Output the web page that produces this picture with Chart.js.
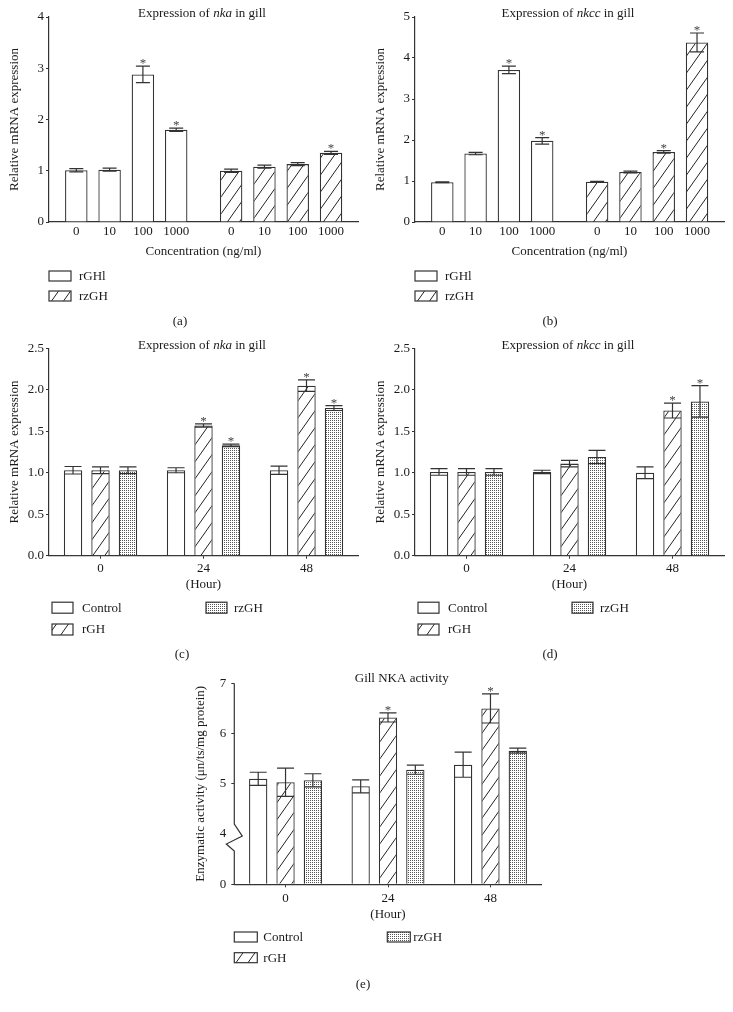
<!DOCTYPE html>
<html><head><meta charset="utf-8"><title>Gill expression</title>
<script src="https://cdn.jsdelivr.net/npm/chart.js@4.4.1/dist/chart.umd.min.js"></script>
<style>
html,body{margin:0;padding:0;background:#fff}
body{position:relative;width:733px;height:1012px;overflow:hidden}
canvas{position:absolute;display:block}
</style></head><body>
<canvas id="pa" width="366" height="330" style="left:0;top:0;width:366px;height:330px"></canvas>
<canvas id="pb" width="367" height="330" style="left:366px;top:0;width:367px;height:330px"></canvas>
<canvas id="pc" width="366" height="338" style="left:0;top:330px;width:366px;height:338px"></canvas>
<canvas id="pd" width="367" height="338" style="left:366px;top:330px;width:367px;height:338px"></canvas>
<canvas id="pe" width="380" height="344" style="left:180px;top:668px;width:380px;height:344px"></canvas>
<script>
// ---------------- DATA ----------------
const concLabels = ['0', '10', '100', '1000'];
const hourLabels = ['0', '24', '48'];

// (a) nka vs concentration
const nkaConcRGHl     = [1.01, 1.02, 2.88, 1.80];
const nkaConcRGHlErr  = [0.03, 0.03, 0.16, 0.03];
const nkaConcRGHlSig  = [0, 0, 1, 1];
const nkaConcRzGH     = [1.00, 1.08, 1.13, 1.35];
const nkaConcRzGHErr  = [0.03, 0.03, 0.03, 0.03];
const nkaConcRzGHSig  = [0, 0, 0, 1];

// (b) nkcc vs concentration
const nkccConcRGHl    = [0.97, 1.67, 3.71, 1.98];
const nkccConcRGHlErr = [0.01, 0.03, 0.09, 0.08];
const nkccConcRGHlSig = [0, 0, 1, 1];
const nkccConcRzGH    = [0.98, 1.22, 1.71, 4.38];
const nkccConcRzGHErr = [0.01, 0.02, 0.03, 0.23];
const nkccConcRzGHSig = [0, 0, 1, 1];

// (c) nka vs time
const nkaTimeControl    = [1.03, 1.03, 1.03];
const nkaTimeControlErr = [0.045, 0.03, 0.05];
const nkaTimeRGH        = [1.03, 1.57, 2.05];
const nkaTimeRGHErr     = [0.04, 0.02, 0.07];
const nkaTimeRGHSig     = [0, 1, 1];
const nkaTimeRzGH       = [1.03, 1.33, 1.78];
const nkaTimeRzGHErr    = [0.04, 0.015, 0.03];
const nkaTimeRzGHSig    = [0, 1, 1];

// (d) nkcc vs time
const nkccTimeControl    = [1.01, 1.01, 1.00];
const nkccTimeControlErr = [0.04, 0.02, 0.07];
const nkccTimeRGH        = [1.01, 1.11, 1.75];
const nkccTimeRGHErr     = [0.04, 0.04, 0.09];
const nkccTimeRGHSig     = [0, 0, 1];
const nkccTimeRzGH       = [1.01, 1.19, 1.86];
const nkccTimeRzGHErr    = [0.04, 0.08, 0.19];
const nkccTimeRzGHSig    = [0, 0, 1];

// (e) NKA activity vs time
const nkaActControl    = [5.10, 4.95, 5.38];
const nkaActControlErr = [0.13, 0.13, 0.25];
const nkaActRGH        = [5.03, 6.32, 6.50];
const nkaActRGHErr     = [0.28, 0.09, 0.29];
const nkaActRGHSig     = [0, 1, 1];
const nkaActRzGH       = [5.07, 5.28, 5.66];
const nkaActRzGHErr    = [0.13, 0.09, 0.05];
const nkaActTicks      = [0, 4, 5, 6, 7];
const noSig            = [0, 0, 0];

// ---------------- STYLE / LAYOUT ----------------
const FONT = '"Liberation Serif", "DejaVu Serif", serif';
const INK = '#333333';
const TXT = '#1a1a1a';
Chart.defaults.font.family = FONT;
Chart.defaults.font.size = 13;
Chart.defaults.color = TXT;
Chart.defaults.animation = false;
Chart.defaults.plugins.legend.display = false;
Chart.defaults.plugins.tooltip.enabled = false;

const CONC_GROUP_SHIFT = 4.65;   // second concentration group placed after a gap
const CONC_X_MIN = -0.82, CONC_X_MAX = 8.46;

// broken axis for panel (e): 0..4 compressed into one unit
function brk(v) { return v <= 4 ? v / 4 : v - 3; }
class BrokenScale extends Chart.LinearScale {
  getPixelForValue(v) { return super.getPixelForValue(brk(v)); }
  getValueForPixel(p) { const d = super.getValueForPixel(p); return d <= 1 ? d * 4 : d + 3; }
}
BrokenScale.id = 'broken';
BrokenScale.defaults = Chart.LinearScale.defaults;
Chart.register(BrokenScale);

function hatchPattern(ctx) {
  const w = 12, h = 17;
  const c = document.createElement('canvas'); c.width = w; c.height = h;
  const g = c.getContext('2d');
  g.fillStyle = '#fff'; g.fillRect(0, 0, w, h);
  g.strokeStyle = '#222'; g.lineWidth = 1;
  for (const dx of [-w, 0, w]) { g.beginPath(); g.moveTo(dx, h); g.lineTo(dx + w, 0); g.stroke(); }
  return ctx.createPattern(c, 'repeat');
}
function dotPattern(ctx) {
  const c = document.createElement('canvas'); c.width = 2; c.height = 2;
  const g = c.getContext('2d');
  g.fillStyle = '#fff'; g.fillRect(0, 0, 2, 2);
  g.fillStyle = '#555'; g.fillRect(0, 0, 1, 1);
  return ctx.createPattern(c, 'repeat');
}

function drawRich(ctx, parts, cx, cy) {
  const fonts = parts.map(p => (p.it ? 'italic ' : '') + '13px ' + FONT);
  let total = 0;
  parts.forEach((p, i) => { ctx.font = fonts[i]; total += ctx.measureText(p.t).width; });
  let x = cx - total / 2;
  ctx.textBaseline = 'middle'; ctx.textAlign = 'left'; ctx.fillStyle = TXT;
  parts.forEach((p, i) => { ctx.font = fonts[i]; ctx.fillText(p.t, x, cy); x += ctx.measureText(p.t).width; });
}

function decorPlugin(d) {
  return {
    id: 'decor',
    afterDatasetsDraw(chart) {
      const ctx = chart.ctx, ys = chart.scales.y;
      ctx.save();
      chart.data.datasets.forEach((ds, di) => {
        const meta = chart.getDatasetMeta(di);
        meta.data.forEach((bar, j) => {
          const v = ds.vals[j], e = ds.errs[j];
          const top = ys.getPixelForValue(v + e), bot = ys.getPixelForValue(v - e);
          const hw = d.cap / 2;
          ctx.strokeStyle = INK; ctx.lineWidth = 1.2;
          ctx.beginPath();
          ctx.moveTo(bar.x, top); ctx.lineTo(bar.x, bot);
          ctx.moveTo(bar.x - hw, top); ctx.lineTo(bar.x + hw, top);
          ctx.moveTo(bar.x - hw, bot); ctx.lineTo(bar.x + hw, bot);
          ctx.stroke();
          if (ds.sig[j]) {
            ctx.fillStyle = '#444'; ctx.font = '13px ' + FONT;
            ctx.textAlign = 'center'; ctx.textBaseline = 'alphabetic';
            ctx.fillText('*', bar.x, top + 1);
          }
        });
      });
      ctx.restore();
    },
    afterDraw(chart) {
      const ctx = chart.ctx, ca = chart.chartArea;
      ctx.save();
      drawRich(ctx, d.title, d.titleX, d.titleY);
      // legend
      d.legend.forEach(it => {
        const x = ca.left + it.dx, y = ca.bottom + it.dy;
        ctx.fillStyle = it.fill; ctx.fillRect(x, y, d.box[0], d.box[1]);
        ctx.strokeStyle = INK; ctx.lineWidth = 1.2; ctx.strokeRect(x, y, d.box[0], d.box[1]);
        ctx.fillStyle = TXT; ctx.font = '13px ' + FONT;
        ctx.textAlign = 'left'; ctx.textBaseline = 'middle';
        ctx.fillText(it.label, x + it.tx, y + d.box[1] / 2 + 0.5);
      });
      ctx.fillStyle = TXT; ctx.font = '13px ' + FONT;
      ctx.textAlign = 'center'; ctx.textBaseline = 'middle';
      ctx.fillText(d.label, d.labelX, d.labelY);
      if (d.broken) {
        const ys = chart.scales.y, ax = ca.left, y4 = ys.getPixelForValue(4);
        ctx.strokeStyle = INK; ctx.lineWidth = 1.2;
        ctx.beginPath();
        ctx.moveTo(ax, ca.top); ctx.lineTo(ax, y4 - 10);
        ctx.lineTo(ax + 8, y4 + 2); ctx.lineTo(ax - 8, y4 + 10); ctx.lineTo(ax, y4 + 17);
        ctx.lineTo(ax, ca.bottom);
        ctx.stroke();
      }
      ctx.restore();
    }
  };
}

function fixBox(w, h) {
  return function (s) {
    if (w != null) s.width = w;
    if (h != null) s.height = h;
    s.paddingLeft = 0; s.paddingRight = 0; s.paddingTop = 0; s.paddingBottom = 0;
  };
}

function barStyle(fill) {
  return { backgroundColor: fill, borderColor: INK, borderWidth: 1.3 };
}

// ---------- concentration panels (a), (b) ----------
function concPanel(id, s1, e1, g1, s2, e2, g2, yMax, titleParts, label, labelX) {
  const canvas = document.getElementById(id), ctx = canvas.getContext('2d');
  const hatch = hatchPattern(ctx);
  const pos1 = s1.map((_, i) => i), pos2 = s2.map((_, i) => i + CONC_GROUP_SHIFT);
  const allPos = pos1.concat(pos2);
  const common = { grouped: false, categoryPercentage: 1, barPercentage: 0.675 };
  return new Chart(ctx, {
    type: 'bar',
    data: {
      datasets: [
        Object.assign({ label: 'rGHl', data: s1.map((v, i) => ({ x: pos1[i], y: v })), vals: s1, errs: e1, sig: g1 }, common, barStyle('#fff')),
        Object.assign({ label: 'rzGH', data: s2.map((v, i) => ({ x: pos2[i], y: v })), vals: s2, errs: e2, sig: g2 }, common, barStyle(hatch))
      ]
    },
    options: {
      responsive: false,
      layout: { padding: { left: 0, top: 17, right: canvas.width - 358, bottom: 71 } },
      scales: {
        x: {
          type: 'linear', min: CONC_X_MIN, max: CONC_X_MAX, offset: false, bounds: 'data',
          grid: { display: false, drawTicks: false, offset: false },
          border: { display: true, color: INK, width: 1.2 },
          afterBuildTicks: s => { s.ticks = allPos.map(v => ({ value: v })); },
          ticks: { autoSkip: false, maxRotation: 0, padding: 2, color: TXT,
                   callback: (v, i) => concLabels[i % concLabels.length] },
          title: { display: true, text: 'Concentration (ng/ml)', color: TXT, padding: { top: 0, bottom: 0 } },
          afterFit: fixBox(null, 37)
        },
        y: {
          min: 0, max: yMax,
          ticks: { stepSize: 1, padding: 2, color: TXT },
          grid: { drawOnChartArea: false, tickLength: 3, color: INK, lineWidth: 1 },
          border: { display: true, color: INK, width: 1.2 },
          title: { display: true, text: 'Relative mRNA expression', color: TXT, padding: { top: 7, bottom: 0 } },
          afterFit: fixBox(49, null)
        }
      }
    },
    plugins: [decorPlugin({
      cap: 14, title: titleParts, titleX: 202, titleY: 14,
      box: [22, 10],
      legend: [
        { label: 'rGHl', fill: '#fff', dx: 0, dy: 49, tx: 30 },
        { label: 'rzGH', fill: hatch, dx: 0, dy: 69, tx: 30 }
      ],
      label: label, labelX: labelX, labelY: 322
    })]
  });
}

// ---------- time panels (c), (d), (e) ----------
function timePanel(id, geo, series, yScale, yTitle, titleParts, label) {
  const canvas = document.getElementById(id), ctx = canvas.getContext('2d');
  const hatch = hatchPattern(ctx), dots = dotPattern(ctx);
  const fills = [ '#fff', hatch, dots ];
  const names = [ 'Control', 'rGH', 'rzGH' ];
  const common = { categoryPercentage: 0.8, barPercentage: 0.67 };
  const datasets = series.map((s, k) => Object.assign(
    { label: names[k], data: s.v, vals: s.v, errs: s.e, sig: s.g }, common, barStyle(fills[k])));
  return new Chart(ctx, {
    type: 'bar',
    data: { labels: hourLabels, datasets },
    options: {
      responsive: false,
      layout: { padding: { left: 0, top: geo.top, right: canvas.width - geo.right, bottom: geo.padBottom } },
      scales: {
        x: {
          type: 'category', offset: true,
          grid: { display: true, offset: false, drawOnChartArea: false, drawTicks: true, tickLength: 3, color: INK, lineWidth: 1 },
          border: { display: true, color: INK, width: 1.2 },
          ticks: { padding: geo.xPad, color: TXT, maxRotation: 0 },
          title: { display: true, text: '(Hour)', color: TXT, padding: { top: 0, bottom: 0 } },
          afterFit: fixBox(null, geo.xh)
        },
        y: Object.assign({
          grid: { drawOnChartArea: false, tickLength: 3, color: INK, lineWidth: 1 },
          border: { display: !geo.broken, color: INK, width: 1.2 },
          title: { display: true, text: yTitle, color: TXT, padding: { top: geo.yTitlePad, bottom: 0 } },
          afterFit: fixBox(geo.left, null)
        }, yScale)
      }
    },
    plugins: [decorPlugin({
      cap: 17, title: titleParts, titleX: geo.titleX, titleY: geo.titleY,
      box: geo.box,
      legend: [
        { label: 'Control', fill: '#fff', dx: geo.lgX1, dy: geo.lgY1, tx: geo.tx1 },
        { label: 'rGH', fill: hatch, dx: geo.lgX1, dy: geo.lgY2, tx: geo.tx1 },
        { label: 'rzGH', fill: dots, dx: geo.lgX2, dy: geo.lgY1, tx: geo.tx2 }
      ],
      label: label, labelX: geo.labelX, labelY: geo.labelY, broken: !!geo.broken
    })]
  });
}

const mrnaY = {
  min: 0, max: 2.5,
  ticks: { stepSize: 0.5, padding: 2, color: TXT, callback: v => Number(v).toFixed(1) }
};
const geoCD = { top: 18.3, right: 358, padBottom: 75.9, xh: 36.4, xPad: 2, left: 49, yTitlePad: 7,
  titleX: 202, titleY: 16, box: [21, 11], lgX1: 3, lgX2: 157, lgY1: 46.5, lgY2: 68.3, tx1: 30, tx2: 28,
  labelX: 182, labelY: 325 };

concPanel('pa', nkaConcRGHl, nkaConcRGHlErr, nkaConcRGHlSig, nkaConcRzGH, nkaConcRzGHErr, nkaConcRzGHSig, 4,
  [{ t: 'Expression of ' }, { t: 'nka', it: true }, { t: ' in gill' }], '(a)', 180);
concPanel('pb', nkccConcRGHl, nkccConcRGHlErr, nkccConcRGHlSig, nkccConcRzGH, nkccConcRzGHErr, nkccConcRzGHSig, 5,
  [{ t: 'Expression of ' }, { t: 'nkcc', it: true }, { t: ' in gill' }], '(b)', 184);

timePanel('pc', geoCD, [
  { v: nkaTimeControl, e: nkaTimeControlErr, g: noSig },
  { v: nkaTimeRGH, e: nkaTimeRGHErr, g: nkaTimeRGHSig },
  { v: nkaTimeRzGH, e: nkaTimeRzGHErr, g: nkaTimeRzGHSig }
], mrnaY, 'Relative mRNA expression', [{ t: 'Expression of ' }, { t: 'nka', it: true }, { t: ' in gill' }], '(c)');

timePanel('pd', Object.assign({}, geoCD, { labelX: 184 }), [
  { v: nkccTimeControl, e: nkccTimeControlErr, g: noSig },
  { v: nkccTimeRGH, e: nkccTimeRGHErr, g: nkccTimeRGHSig },
  { v: nkccTimeRzGH, e: nkccTimeRzGHErr, g: nkccTimeRzGHSig }
], mrnaY, 'Relative mRNA expression', [{ t: 'Expression of ' }, { t: 'nkcc', it: true }, { t: ' in gill' }], '(d)');

timePanel('pe', { top: 15.3, right: 361.7, padBottom: 89.2, xh: 38.5, xPad: 3.2, left: 54.3, yTitlePad: 12.9,
  titleX: 221.7, titleY: 11, box: [23, 10], lgX1: 0, lgX2: 153, lgY1: 47.7, lgY2: 68.4, tx1: 29, tx2: 26,
  labelX: 183, labelY: 317, broken: true }, [
  { v: nkaActControl, e: nkaActControlErr, g: noSig },
  { v: nkaActRGH, e: nkaActRGHErr, g: nkaActRGHSig },
  { v: nkaActRzGH, e: nkaActRzGHErr, g: noSig }
], {
  type: 'broken', min: 0, max: 4,
  afterBuildTicks: s => { s.ticks = nkaActTicks.map(v => ({ value: v })); },
  ticks: { padding: 5, color: TXT, autoSkip: false, callback: v => String(v) },
  grid: { drawOnChartArea: false, tickLength: 3, lineWidth: 1,
          color: c => (c.tick && c.tick.value === 4) ? 'rgba(0,0,0,0)' : INK }
}, 'Enzymatic activity (μn/ts/mg protein)', [{ t: 'Gill NKA activity' }], '(e)');
</script>
</body></html>
